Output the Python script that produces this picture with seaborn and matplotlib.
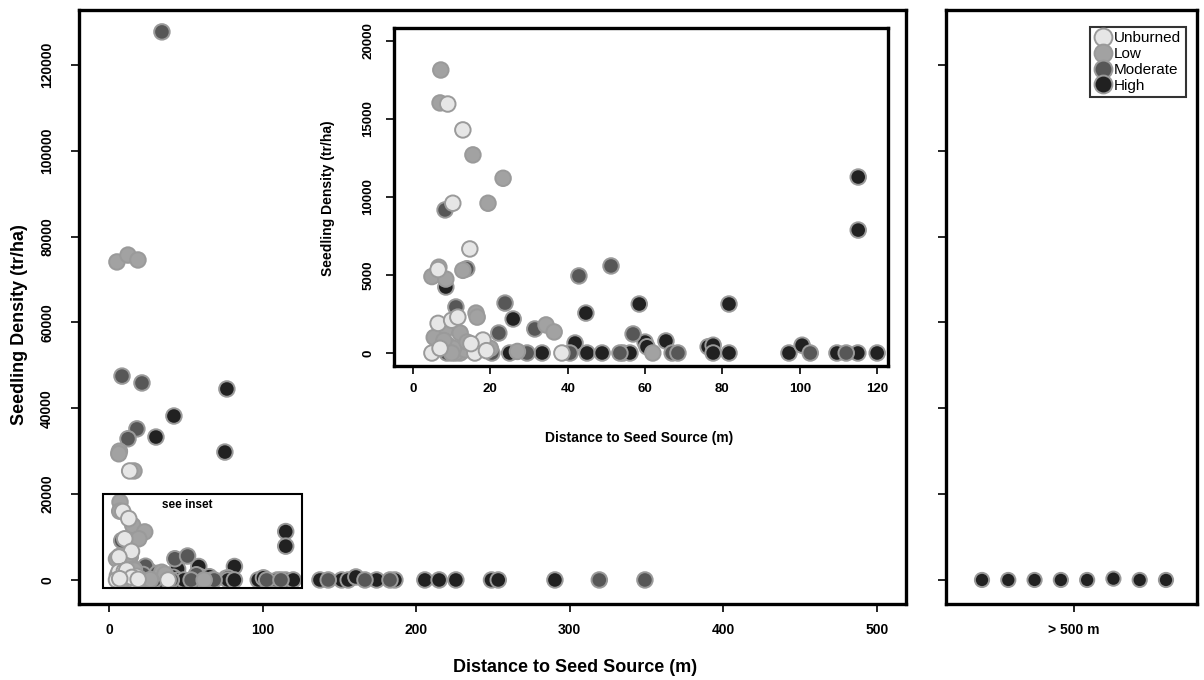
import matplotlib
matplotlib.use("Agg")
import matplotlib.pyplot as plt
import matplotlib.patches as mpatches
import seaborn as sns
import pandas as pd

# ---------------- data ----------------
severity_levels = ["Unburned", "Low", "Moderate", "High"]
severity_colors = ["#e6e6e6", "#a2a2a2", "#575757", "#212121"]

unburned_dist = [13.5, 9.0, 12.9, 10.3, 14.7, 6.5, 6.5, 10.0, 11.6, 18.1, 4.9, 16.0, 38.5, 15.0, 19.0, 7.0]
unburned_dens = [25400, 15960, 14300, 9600, 6670, 5350, 1900, 2100, 2300, 830, 0, 0, 0, 600, 150, 300]

low_dist = [5.2, 12.4, 18.9, 6.8, 6.4, 16.3, 7.2, 7.0, 15.5, 23.3, 19.4, 6.7, 4.9, 8.5, 12.9,
            16.3, 16.6, 34.4, 36.5, 8.3, 5.5, 12.2, 12.2, 11.0, 13.5, 9.0, 10.5, 14.0, 17.0,
            8.0, 20.0, 27.0, 62.0, 10.0]
low_dens = [74100, 75700, 74560, 30000, 29400, 25400, 18140, 16030, 12700, 11200, 9600, 5500, 4900, 4740, 5300,
            2560, 2300, 1800, 1350, 1470, 1000, 1280, 0, 0, 200, 500, 300, 700, 400,
            800, 300, 100, 0, 0]

moderate_dist = [34.5, 8.5, 21.5, 18.2, 12.4, 8.3, 13.9, 11.1, 23.8, 22.2, 31.5, 42.9, 51.2, 56.9,
                 8.8, 20.4, 29.5, 40.6, 53.5, 67.0, 68.5, 102.7, 112.0, 142.8, 166.7, 183.0, 319.3, 349.0]
moderate_dens = [127700, 47500, 45900, 35200, 32900, 9170, 5400, 2950, 3200, 1280, 1540, 4940, 5580, 1220,
                 0, 0, 0, 0, 0, 0, 0, 0, 0, 0, 0, 0, 0, 0]

high_dist = [76.8, 42.3, 30.6, 75.5, 8.5, 25.9, 44.7, 58.5, 81.7, 115.1, 115.1, 60.0, 60.5, 65.4, 41.9,
             25.0, 33.4, 45.0, 48.9, 54.3, 56.1, 76.3, 77.6, 77.6, 81.7, 97.2, 100.6, 109.6, 115.0, 120.0,
             137.4, 151.5, 155.8, 160.8, 174.3, 186.2, 205.7, 215.0, 225.9, 249.1, 253.5, 290.4]
high_dens = [44500, 38200, 33300, 29800, 4230, 2180, 2560, 3140, 3140, 11280, 7880, 700, 400, 770, 640,
             0, 0, 0, 0, 0, 0, 400, 500, 0, 0, 0, 500, 0, 0, 0,
             0, 0, 0, 700, 0, 0, 0, 0, 0, 0, 0, 0]

far_index = [1, 2, 3, 4, 5, 6, 7, 8]
far_dens = [0, 0, 0, 0, 0, 300, 0, 0]
far_severity = ["High"] * 8

main_xticks = [0, 100, 200, 300, 400, 500]
main_yticks = [0, 20000, 40000, 60000, 80000, 100000, 120000]
inset_xticks = [0, 20, 40, 60, 80, 100, 120]
inset_yticks = [0, 5000, 10000, 15000, 20000]
far_label = "> 500 m"

# ---------------- build table (draw order: dark first, light on top) ----------------
frames = []
for name, d, v in [("High", high_dist, high_dens), ("Moderate", moderate_dist, moderate_dens),
                   ("Low", low_dist, low_dens), ("Unburned", unburned_dist, unburned_dens)]:
    frames.append(pd.DataFrame({"dist": d, "dens": v, "severity": name}))
df = pd.concat(frames, ignore_index=True)
far_df = pd.DataFrame({"idx": far_index, "dens": far_dens, "severity": far_severity})
palette = dict(zip(severity_levels, severity_colors))

sns.set_style("white")
plt.rcParams["font.family"] = ["Liberation Sans", "DejaVu Sans"]
plt.rcParams["font.weight"] = "bold"
plt.rcParams["text.color"] = "black"
plt.rcParams["axes.labelcolor"] = "black"
plt.rcParams["xtick.color"] = "black"
plt.rcParams["ytick.color"] = "black"

W, H = 1204, 680
fig = plt.figure(figsize=(W / 100, H / 100), dpi=100)

def fx(px):
    return px / W

def fy(py):
    return 1 - py / H

ax = fig.add_axes([fx(79), fy(604), fx(906) - fx(79), fy(10) - fy(604)])
axr = fig.add_axes([fx(946), fy(604), fx(1197) - fx(946), fy(10) - fy(604)])
axi = fig.add_axes([fx(394), fy(366), fx(888) - fx(394), fy(28) - fy(366)])

pt_kw = dict(s=125, edgecolor="#9a9a9a", linewidth=1.4, palette=palette, hue_order=severity_levels)

sns.scatterplot(data=df, x="dist", y="dens", hue="severity", ax=ax, legend="full", zorder=2, **pt_kw)
sns.scatterplot(data=df, x="dist", y="dens", hue="severity", ax=axi, legend=False, zorder=2, **pt_kw)
sns.scatterplot(data=far_df, x="idx", y="dens", hue="severity", ax=axr, legend=False, zorder=2,
                s=105, edgecolor="#9a9a9a", linewidth=1.4, palette=palette, hue_order=severity_levels)

handles, labels = ax.get_legend_handles_labels()
ax.get_legend().remove()

# ---------------- main axis ----------------
ax.set_xlim(-19.5, 519)
ax.set_ylim(-5600, 132800)
ax.set_xticks(main_xticks)
ax.set_yticks(main_yticks)
ax.set_xticklabels([str(t) for t in main_xticks], fontsize=10, fontweight="bold")
ax.set_yticklabels([str(t) for t in main_yticks], fontsize=10, fontweight="bold",
                   rotation=90, va="center")
ax.set_xlabel("Distance to Seed Source (m)", fontsize=13, fontweight="bold")
ax.set_ylabel("Seedling Density (tr/ha)", fontsize=13, fontweight="bold")
ax.xaxis.set_label_coords(fx(575), fy(659), transform=fig.transFigure)
ax.yaxis.set_label_coords(fx(28), fy(325), transform=fig.transFigure)

rect = mpatches.Rectangle((-4, -1900), 130, 21900, fill=False, edgecolor="black",
                          linewidth=1.5, zorder=3)
ax.add_patch(rect)
ax.text(51, 17400, "see inset", ha="center", va="center", fontsize=8.5, fontweight="bold", zorder=4)

# ---------------- right panel ----------------
axr.set_xlim(-0.37, 9.18)
axr.set_ylim(-5600, 132800)
axr.set_xticks([4.5])
axr.set_xticklabels([far_label], fontsize=10, fontweight="bold")
axr.set_yticks(main_yticks)
axr.set_yticklabels([])
axr.set_xlabel("")
axr.set_ylabel("")
leg = axr.legend(handles, labels, loc="upper right", bbox_to_anchor=(0.955, 0.972),
                 frameon=True, fancybox=False, edgecolor="black", fontsize=11,
                 handletextpad=0.25, borderpad=0.3, labelspacing=0.12, handlelength=1.0,
                 borderaxespad=0.0, markerscale=1.15)
leg.get_frame().set_linewidth(1.5)
for t in leg.get_texts():
    t.set_fontweight("normal")
    t.set_color("black")

# ---------------- inset ----------------
axi.set_facecolor("white")
axi.set_xlim(-4.9, 122.8)
axi.set_ylim(-833, 20833)
axi.set_xticks(inset_xticks)
axi.set_yticks(inset_yticks)
axi.set_xticklabels([str(t) for t in inset_xticks], fontsize=9.5, fontweight="bold")
axi.set_yticklabels([str(t) for t in inset_yticks], fontsize=9.5, fontweight="bold",
                    rotation=90, va="center")
axi.set_xlabel("Distance to Seed Source (m)", fontsize=10, fontweight="bold")
axi.set_ylabel("Seedling Density (tr/ha)", fontsize=10, fontweight="bold")
axi.xaxis.set_label_coords(fx(639), fy(431), transform=fig.transFigure)
axi.yaxis.set_label_coords(fx(335), fy(198), transform=fig.transFigure)

for a in (ax, axr, axi):
    for s in a.spines.values():
        s.set_visible(True)
        s.set_color("black")
        s.set_linewidth(2.4)
    a.tick_params(axis="both", direction="out", length=6, width=1.2, color="black",
                  labelcolor="black", bottom=True, left=True, top=False, right=False)
ax.tick_params(axis="x", pad=8)
ax.tick_params(axis="y", pad=12)
axr.tick_params(axis="x", pad=8)
axi.tick_params(axis="x", pad=6)
axi.tick_params(axis="y", pad=8)

fig.savefig("out.png", dpi=100, facecolor="white")
